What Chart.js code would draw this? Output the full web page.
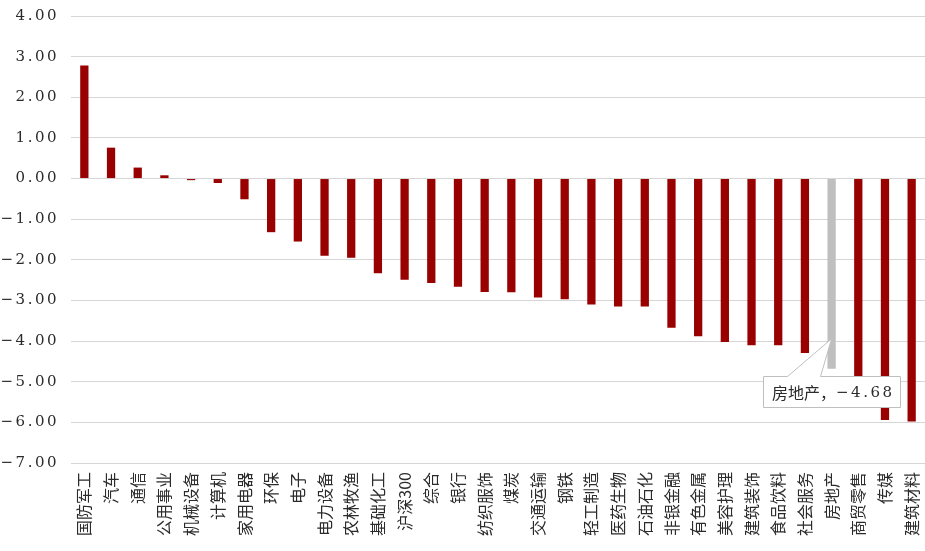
<!DOCTYPE html>
<html>
<head>
<meta charset="utf-8">
<script src="https://cdn.jsdelivr.net/npm/chart.js@4/dist/chart.umd.min.js"></script>
<style>
  html, body { margin: 0; padding: 0; background: #ffffff; }
  #wrap { position: relative; width: 925px; height: 551px; }
</style>
</head>
<body>
<div id="wrap"><canvas id="c"></canvas></div>
<script>
// 行业涨跌幅（%）
const categories = [
  '国防军工', '汽车', '通信', '公用事业', '机械设备', '计算机', '家用电器', '环保',
  '电子', '电力设备', '农林牧渔', '基础化工', '沪深300', '综合', '银行', '纺织服饰',
  '煤炭', '交通运输', '钢铁', '轻工制造', '医药生物', '石油石化', '非银金融', '有色金属',
  '美容护理', '建筑装饰', '食品饮料', '社会服务', '房地产', '商贸零售', '传媒', '建筑材料'
];
const changes = [
  2.78, 0.76, 0.27, 0.08, -0.04, -0.11, -0.51, -1.32,
  -1.55, -1.90, -1.95, -2.33, -2.49, -2.57, -2.66, -2.79,
  -2.80, -2.93, -2.97, -3.10, -3.15, -3.15, -3.67, -3.88,
  -4.02, -4.10, -4.10, -4.29, -4.68, -4.90, -5.94, -5.98
];
const highlighted = '房地产';
const yMin = -7, yMax = 4, yStep = 1;

const RED = '#990000';
const GREY = '#BFBFBF';
const TEXT = '#2b2b2b';
const NUM_FONT = '"DejaVu Serif", "Liberation Serif", serif';
const CJK_FONT = '"Noto Sans CJK SC", sans-serif';

const fmt = v => v.toFixed(2).replace('-', '\u2212');

// wide-tracked numerals on the value axis
const spacedValueAxis = {
  id: 'spacedValueAxis',
  afterLayout(chart) {
    const s = chart.scales.y;
    if (s.__spaced) return;
    const orig = s.drawLabels;
    s.drawLabels = function (area) {
      const c = this.ctx;
      const prev = c.letterSpacing;
      c.letterSpacing = '2.5px';
      orig.call(this, area);
      c.letterSpacing = prev;
    };
    s.__spaced = true;
  }
};

// callout box for the highlighted industry
const callout = {
  id: 'callout',
  afterDatasetsDraw(chart) {
    const idx = categories.indexOf(highlighted);
    if (idx < 0) return;
    const bar = chart.getDatasetMeta(0).data[idx];
    const ctx = chart.ctx;
    const cx = bar.x;
    const bottom = bar.y;
    const boxW = 137, boxH = 31;
    const bx = Math.round(cx - boxW / 2) + 0.5;
    const by = Math.round(bottom + 7) + 0.5;
    const tipX = cx, tipY = bottom - 30;

    ctx.save();
    ctx.lineWidth = 1;
    ctx.strokeStyle = '#BFBFBF';
    ctx.fillStyle = '#ffffff';
    ctx.beginPath();
    ctx.moveTo(bx, by);
    ctx.lineTo(bx + 24, by);
    ctx.lineTo(tipX, tipY);
    ctx.lineTo(bx + 57, by);
    ctx.lineTo(bx + boxW, by);
    ctx.lineTo(bx + boxW, by + boxH);
    ctx.lineTo(bx, by + boxH);
    ctx.closePath();
    ctx.fill();
    ctx.stroke();

    const namePart = highlighted + '，';
    const numPart = fmt(changes[idx]);
    ctx.textBaseline = 'middle';
    ctx.textAlign = 'left';
    ctx.font = '16px ' + CJK_FONT;
    const w1 = ctx.measureText(namePart).width;
    ctx.font = '15px ' + NUM_FONT;
    ctx.letterSpacing = '2.5px';
    const w2 = ctx.measureText(numPart).width - 2.5;
    const start = bx + boxW / 2 - (w1 + w2) / 2;
    const ty = by + boxH / 2 + 1;
    ctx.fillStyle = TEXT;
    ctx.letterSpacing = '0px';
    ctx.font = '16px ' + CJK_FONT;
    ctx.fillText(namePart, start, ty);
    ctx.font = '15px ' + NUM_FONT;
    ctx.letterSpacing = '2.5px';
    ctx.fillText(numPart, start + w1, ty);
    ctx.restore();
  }
};

new Chart(document.getElementById('c'), {
  type: 'bar',
  data: {
    labels: categories,
    datasets: [{
      data: changes,
      backgroundColor: categories.map(c => c === highlighted ? GREY : RED),
      borderWidth: 0,
      barPercentage: 0.31,
      categoryPercentage: 1.0
    }]
  },
  options: {
    responsive: true,
    maintainAspectRatio: false,
    animation: false,
    layout: { padding: { top: 16, right: 0, left: 0, bottom: 0 } },
    plugins: { legend: { display: false }, tooltip: { enabled: false } },
    scales: {
      x: {
        grid: { display: false, drawTicks: false },
        border: { display: false },
        ticks: {
          autoSkip: false,
          minRotation: 90,
          maxRotation: 90,
          padding: 9,
          color: TEXT,
          font: { family: CJK_FONT, size: 16 }
        },
        afterFit(scale) {
          scale.height = 88;
          scale.paddingLeft = 0;
          scale.paddingRight = 0;
        }
      },
      y: {
        min: yMin,
        max: yMax,
        grid: { color: '#D6D6D6', lineWidth: 1, drawTicks: false },
        border: { display: false },
        ticks: {
          stepSize: yStep,
          padding: 12,
          color: TEXT,
          font: { family: NUM_FONT, size: 15 },
          callback: v => fmt(v)
        },
        afterFit(scale) {
          scale.width = 71;
          scale.paddingTop = 0;
          scale.paddingBottom = 0;
        }
      }
    }
  },
  plugins: [spacedValueAxis, callout]
});
</script>
</body>
</html>
